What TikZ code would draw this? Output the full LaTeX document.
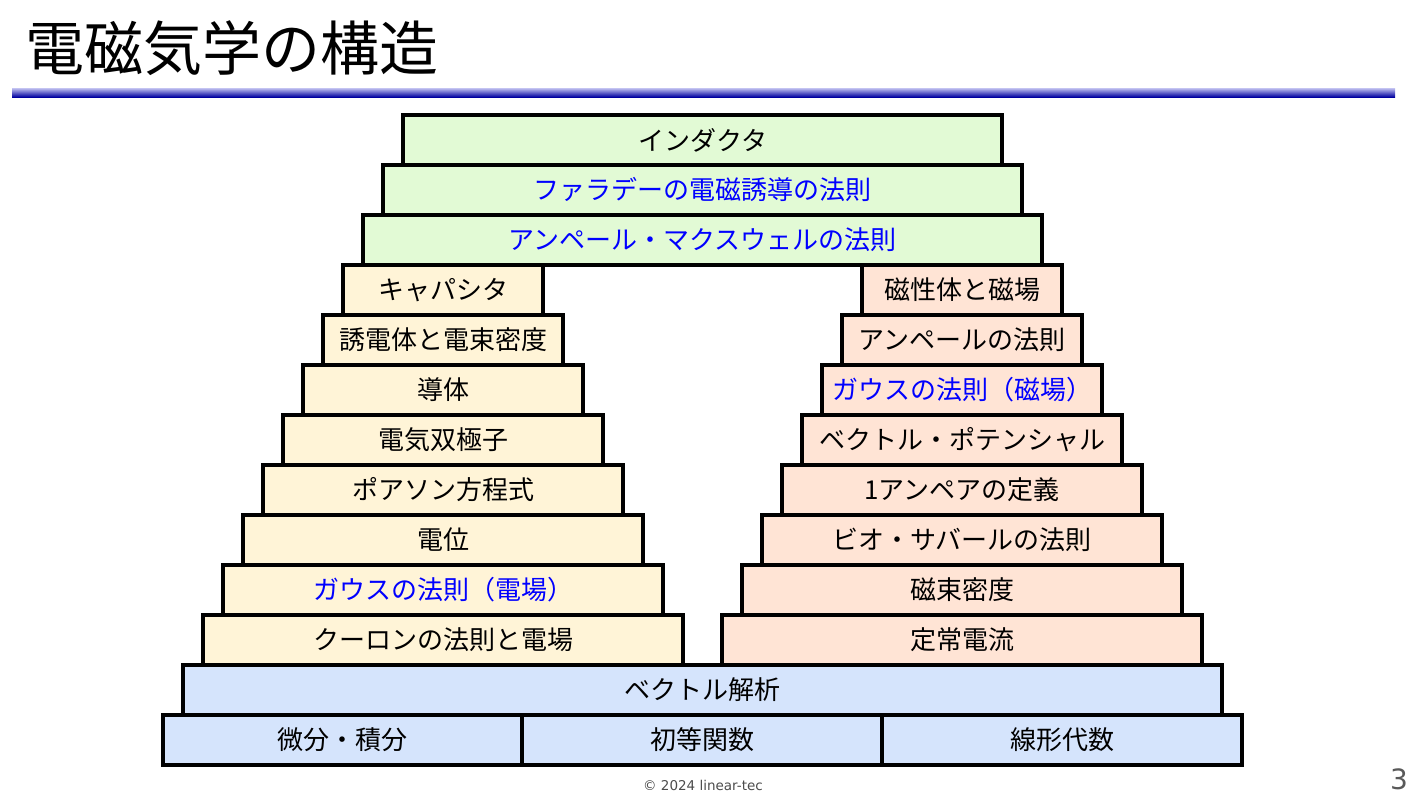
\documentclass[tikz,border=0pt]{standalone}
\usepackage{fontspec}
\setmainfont{Noto Sans CJK JP}
\newfontfamily\footfont{DejaVu Sans}
\usetikzlibrary{positioning}

\definecolor{topgreen}{HTML}{E2FAD5}
\definecolor{elecyellow}{HTML}{FFF4D7}
\definecolor{magpeach}{HTML}{FFE4D5}
\definecolor{mathblue}{HTML}{D5E4FC}
\definecolor{rulelight}{HTML}{C4C4F2}
\definecolor{ruledark}{HTML}{0000A0}

\tikzset{
	layer/.style={draw, line width=3.5pt, minimum height=50pt, inner sep=0pt,
		font=\fontsize{26}{30}\selectfont},
}

\begin{document}
\begin{tikzpicture}[x=1pt, y=-1pt]
	\useasboundingbox (0,0) rectangle (1412,795);
	% title and rule
	\node[anchor=base west, font=\fontsize{59}{62}\selectfont] (title) at (22,70) {電磁気学の構造};
	\shade[top color=rulelight, bottom color=ruledark] (12,88) rectangle (1395,97);
	% top three layers
	\node[layer, fill=topgreen, minimum width=599] (induct) at (702.5,140) {インダクタ};
	\node[layer, fill=topgreen, minimum width=639, text=blue] (faraday) at (702.5,190) {ファラデーの電磁誘導の法則};
	\node[layer, fill=topgreen, minimum width=679, text=blue] (maxwell) at (702.5,240) {アンペール・マクスウェルの法則};
	% electric side
	\foreach \i/\T/\C in {0/キャパシタ/black,
						  1/誘電体と電束密度/black,
						  2/導体/black,
						  3/電気双極子/black,
						  4/ポアソン方程式/black,
						  5/電位/black,
						  6/ガウスの法則（電場）/blue,
						  7/クーロンの法則と電場/black} {
		\node[layer, fill=elecyellow, text=\C, minimum width=200+40*\i] (elec\i) at (443,290+50*\i) {\T};
		}
	% magnetic side
	\foreach \i/\T/\C in {0/磁性体と磁場/black,
						  1/アンペールの法則/black,
						  2/ガウスの法則（磁場）/blue,
						  3/ベクトル・ポテンシャル/black,
						  4/1アンペアの定義/black,
						  5/ビオ・サバールの法則/black,
						  6/磁束密度/black,
						  7/定常電流/black} {
		\node[layer, fill=magpeach, text=\C, minimum width=200+40*\i] (mag\i) at (962,290+50*\i) {\T};
		}
	% math base
	\node[layer, fill=mathblue, minimum width=1039] (vector) at (702.5,690) {ベクトル解析};
	\node[layer, fill=mathblue, minimum width=359] (calculus) at (342.5,740) {微分・積分};
	\node[layer, fill=mathblue, minimum width=360] (elemfunc) at (702,740) {初等関数};
	\node[layer, fill=mathblue, minimum width=360] (linalg) at (1062,740) {線形代数};
	% footer
	\node[font=\footfont\fontsize{13.5}{15}\selectfont, text=black!70] (copy) at (703,785) {© 2024 linear-tec};
	\node[font=\footfont\fontsize{28}{30}\selectfont, text=black!65, anchor=base] (page) at (1399,789) {3};
\end{tikzpicture}
\end{document}
